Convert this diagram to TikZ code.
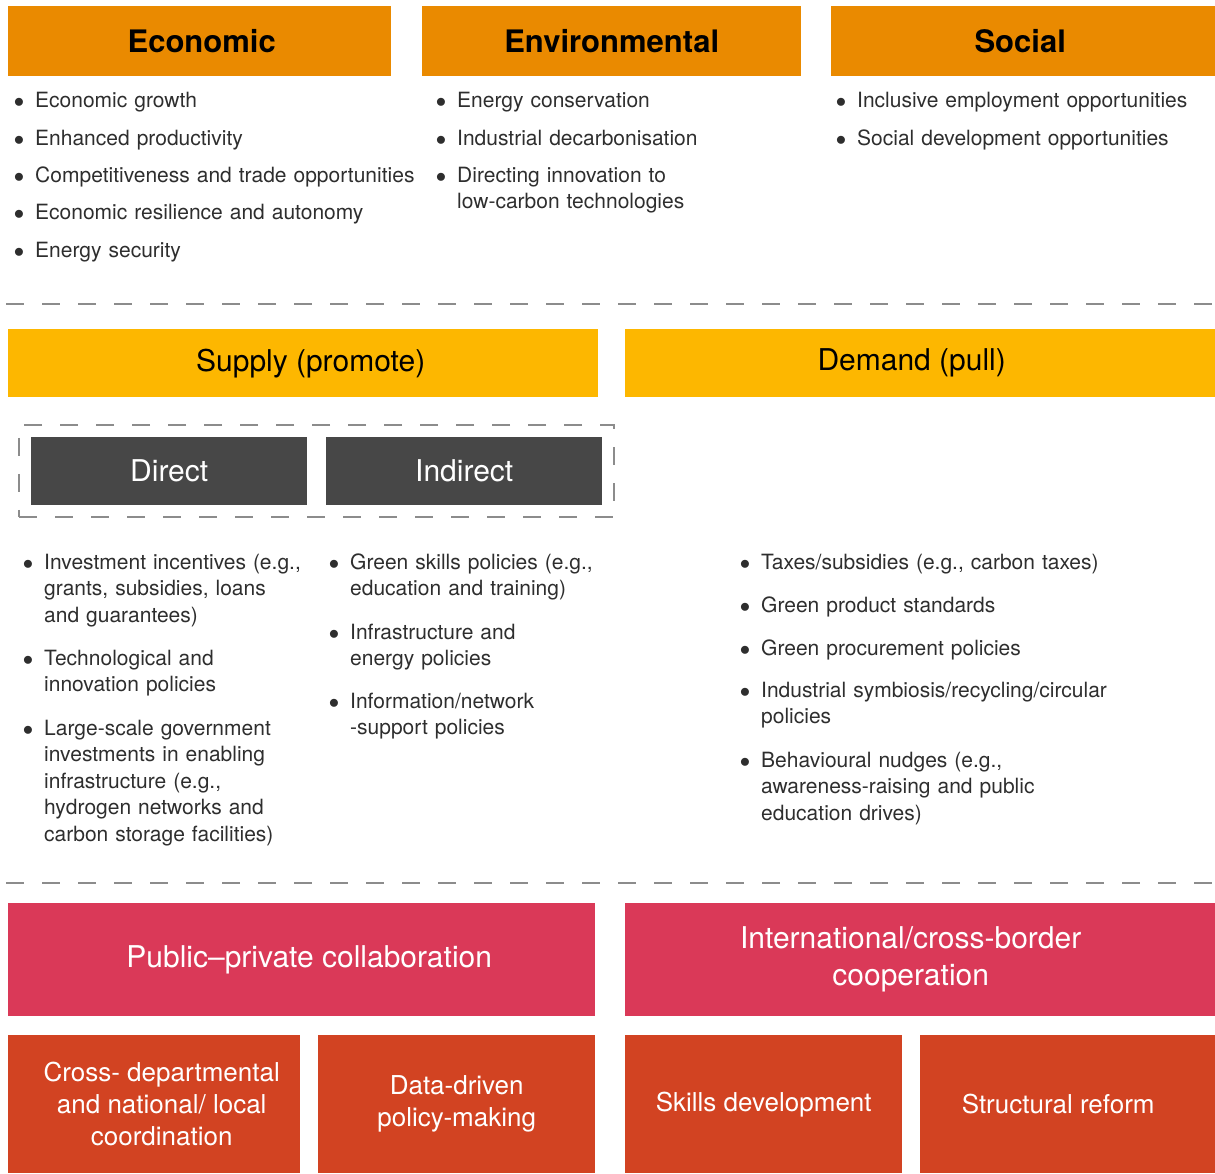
\documentclass[tikz,border=0pt]{standalone}
\usepackage{fontspec}
\setmainfont{TeX Gyre Heros}
\usetikzlibrary{fit}

\definecolor{hdrorange}{HTML}{EA8A00}
\definecolor{pullyellow}{HTML}{FDB700}
\definecolor{darkbox}{HTML}{474747}
\definecolor{pinkbox}{HTML}{DA3958}
\definecolor{redbox}{HTML}{D24322}
\definecolor{dashgray}{HTML}{8C8C8C}
\definecolor{bodytext}{HTML}{2E2E2E}

% bullet hanging left of the item text
\newcommand{\bul}{\llap{$\bullet$\hspace{10.9pt}}}
% blank space that keeps a box label off centre
\newcommand{\pad}[1]{\rule{#1}{0pt}}

\tikzset{
    box/.style={anchor=north west, inner sep=0pt, align=center},
    pillar/.style={box, fill=hdrorange, minimum width=383pt, minimum height=70pt,
        font=\fontsize{31}{37}\selectfont\bfseries},
    side/.style={box, fill=pullyellow, minimum width=590pt, minimum height=68pt,
        font=\fontsize{30}{37}\selectfont},
    kind/.style={box, fill=darkbox, text=white, minimum width=276pt, minimum height=68pt,
        font=\fontsize{30}{37}\selectfont},
    enabler/.style={box, fill=pinkbox, text=white, minimum height=113pt,
        font=\fontsize{30}{37}\selectfont},
    lever/.style={box, fill=redbox, text=white, minimum height=138pt,
        font=\fontsize{26}{32}\selectfont},
    entry/.style={anchor=base west, inner sep=0pt, text width=#1, align=left,
        text=bodytext, font=\fontsize{21}{26.5}\selectfont},
    entry/.default=390pt,
    divider/.style={dashgray, line width=2.5pt, dash pattern=on 18pt off 18pt},
    frame/.style={draw=dashgray, line width=2pt, dash pattern=on 18pt off 18pt, inner sep=12pt},
}

\begin{document}
\begin{tikzpicture}[x=1pt, y=-1pt]
    \useasboundingbox (0,0) rectangle (1215,1173);

    % three pillars
    \node[pillar] (econ) at (8,6) {\pad{4pt}Economic};
    \node[pillar, minimum width=379pt] (env) at (422,6) {Environmental};
    \node[pillar, minimum width=390pt] (soc) at (831,6) {Social\pad{12pt}};

    \node[entry] (econ1) at (35,107) {\bul Economic growth};
    \node[entry] (econ2) at (35,145) {\bul Enhanced productivity};
    \node[entry] (econ3) at (35,182) {\bul Competitiveness and trade opportunities};
    \node[entry] (econ4) at (35,219) {\bul Economic resilience and autonomy};
    \node[entry] (econ5) at (35,257) {\bul Energy security};

    \node[entry] (env1) at (457,107) {\bul Energy conservation};
    \node[entry] (env2) at (457,145) {\bul Industrial decarbonisation};
    \node[entry] (env3) at (457,182) {\bul Directing innovation to\\low-carbon technologies};

    \node[entry] (soc1) at (857,107) {\bul Inclusive employment opportunities};
    \node[entry] (soc2) at (857,145) {\bul Social development opportunities};

    \coordinate (top l) at (6,304);
    \coordinate (top r) at (1215,304);
    \draw[divider] (top l) -- (top r);

    % supply and demand
    \node[side] (supply) at (8,329) {\pad{15pt}Supply (promote)};
    \node[side, minimum width=600pt] (demand) at (625,329) {Demand (pull)\pad{27pt}};

    \node[kind] (direct) at (31,437) {Direct};
    \node[kind] (indirect) at (326,437) {Indirect};
    \node[frame, fit=(direct)(indirect)] (kinds) {};

    \node[entry=270pt] (dir1) at (44,569) {\bul Investment incentives (e.g.,\\grants, subsidies, loans\\and guarantees)};
    \node[entry=270pt] (dir2) at (44,665) {\bul Technological and\\innovation policies};
    \node[entry=270pt] (dir3) at (44,735) {\bul Large-scale government\\investments in enabling\\infrastructure (e.g.,\\hydrogen networks and\\carbon storage facilities)};

    \node[entry=270pt] (ind1) at (350,569) {\bul Green skills policies (e.g.,\\education and training)};
    \node[entry=270pt] (ind2) at (350,639) {\bul Infrastructure and\\energy policies};
    \node[entry=270pt] (ind3) at (350,708) {\bul Information/network\\-support policies};

    \node[entry] (dem1) at (761,569) {\bul Taxes/subsidies (e.g., carbon taxes)};
    \node[entry] (dem2) at (761,612) {\bul Green product standards};
    \node[entry] (dem3) at (761,655) {\bul Green procurement policies};
    \node[entry] (dem4) at (761,697) {\bul Industrial symbiosis/recycling/circular\\policies};
    \node[entry] (dem5) at (761,767) {\bul Behavioural nudges (e.g.,\\awareness-raising and public\\education drives)};

    \coordinate (bot l) at (6,883);
    \coordinate (bot r) at (1215,883);
    \draw[divider] (bot l) -- (bot r);

    % enablers
    \node[enabler, minimum width=587pt] (ppc) at (8,903) {\pad{15pt}Public--private collaboration};
    \node[enabler, minimum width=600pt] (intl) at (625,903) {International/cross-border\pad{29pt}\\cooperation\pad{29pt}};

    \node[lever, minimum width=292pt] (coord) at (8,1035) {\pad{15pt}Cross- departmental\\\pad{15pt}and national/ local\\\pad{15pt}coordination};
    \node[lever, minimum width=277pt] (data) at (318,1035) {Data-driven\\policy-making};
    \node[lever, minimum width=277pt] (skills) at (625,1035) {Skills development};
    \node[lever, minimum width=305pt] (reform) at (920,1035) {Structural reform\pad{29pt}};
\end{tikzpicture}
\end{document}
